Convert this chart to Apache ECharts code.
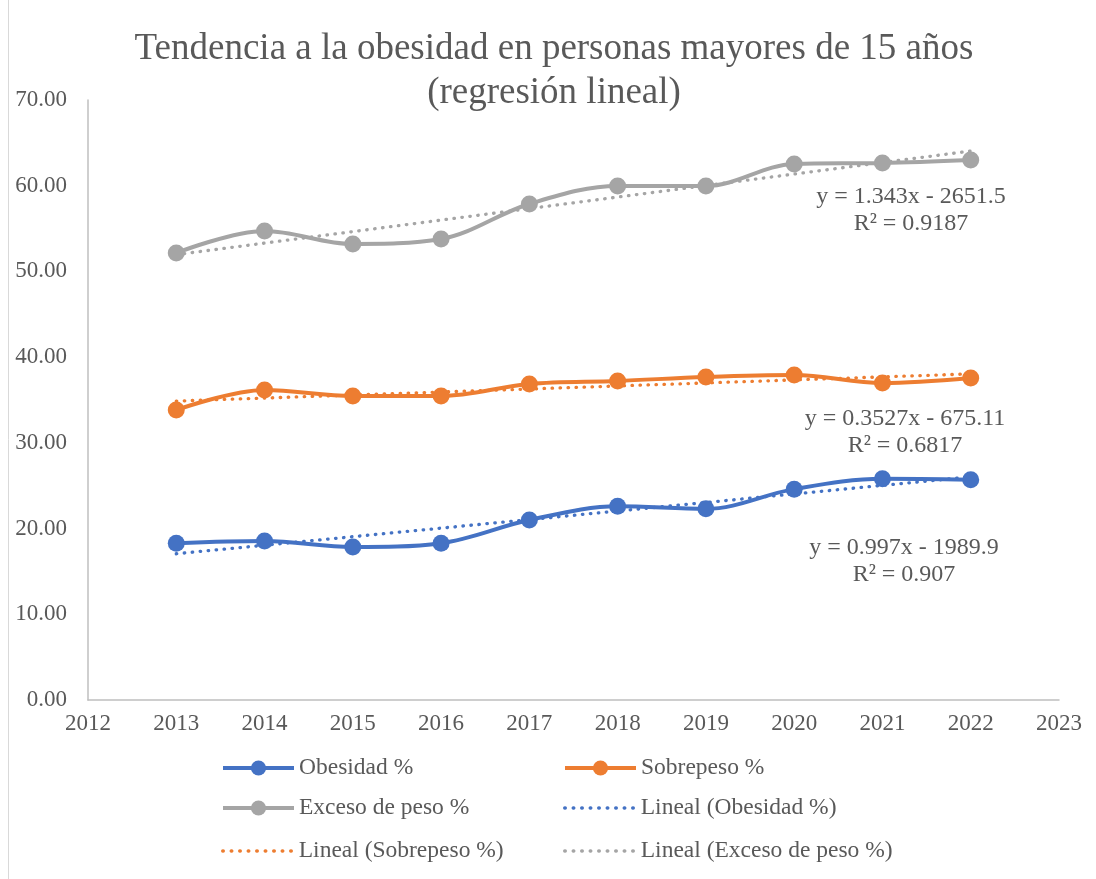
<!DOCTYPE html>
<html>
<head>
<meta charset="utf-8">
<script src="https://cdn.jsdelivr.net/npm/echarts@6/dist/echarts.min.js"></script>
<style>
  html, body { margin: 0; padding: 0; background: #ffffff; }
  #chart { width: 1096px; height: 879px; }
</style>
</head>
<body>
<div id="chart"></div>
<script>
// Años de la serie
const years = [2013, 2014, 2015, 2016, 2017, 2018, 2019, 2020, 2021, 2022];

// Porcentajes por año
const obesidad = [18.3, 18.55, 17.85, 18.3, 21.0, 22.6, 22.3, 24.6, 25.8, 25.7];
const sobrepeso = [33.83, 36.17, 35.47, 35.47, 36.87, 37.22, 37.69, 37.92, 36.99, 37.57];
const exceso = [52.15, 54.72, 53.2, 53.79, 57.87, 59.97, 59.97, 62.54, 62.65, 63.0];

// Coeficientes de las rectas de regresión [pendiente, ordenada]
const trendObesidad = [0.997, -1989.9];
const trendSobrepeso = [0.3527, -675.11];
const trendExceso = [1.343, -2651.5];

// Textos de las ecuaciones
const eqObesidad = ['y = 0.997x - 1989.9', 'R² = 0.907'];
const eqSobrepeso = ['y = 0.3527x - 675.11', 'R² = 0.6817'];
const eqExceso = ['y = 1.343x - 2651.5', 'R² = 0.9187'];

// Título
const titleLines = ['Tendencia a la obesidad en personas mayores de 15 años', '(regresión lineal)'];

// Ejes
const xMin = 2012, xMax = 2023;
const yMin = 0, yMax = 70, yStep = 10;

const FONT = '"Liberation Serif", "Times New Roman", serif';
const TXT = '#595959';
const BLUE = '#4472C4', ORANGE = '#ED7D31', GRAY = '#A5A5A5';

const pairs = vals => years.map((y, i) => [y, vals[i]]);
const trendLine = c => {
  const a = years[0], b = years[years.length - 1];
  return [[a, c[0] * a + c[1]], [b, c[0] * b + c[1]]];
};

function dataSeries(name, vals, color) {
  return {
    name, type: 'line', data: pairs(vals), smooth: 0.35,
    symbol: 'circle', symbolSize: 17,
    lineStyle: { color, width: 4 },
    itemStyle: { color },
    z: 3
  };
}
function trendSeries(name, coef, color) {
  return {
    name, type: 'line', data: trendLine(coef),
    symbol: 'none',
    lineStyle: { color, width: 3.3, type: [0.5, 7.5], cap: 'round' },
    itemStyle: { color },
    z: 2
  };
}

function legendAt(name, left, top, isTrend) {
  const item = isTrend ? { name, itemStyle: { opacity: 0 } } : { name };
  return {
    data: [item], left, top, orient: 'horizontal',
    itemWidth: 71, itemHeight: 19, itemGap: 6,
    lineStyle: isTrend ? { width: 3.5, type: [0.5, 8], cap: 'round' } : { width: 4 },
    textStyle: { fontFamily: FONT, fontSize: 23.5, color: TXT, padding: [0, 0, 0, 0] },
    padding: 0, selectedMode: false
  };
}

function textAt(t, cx, cy, size) {
  return {
    type: 'text', x: cx, y: cy,
    style: { text: t, fontFamily: FONT, fontSize: size, fill: TXT,
             align: 'center', verticalAlign: 'middle' }
  };
}
const eqText = (lines, cx, cy) => lines.map((t, i) => textAt(t, cx, cy + i * 27, 24));

const chart = echarts.init(document.getElementById('chart'), null, { renderer: 'canvas' });
chart.setOption({
  animation: false,
  backgroundColor: '#ffffff',
  grid: { left: 88, right: 37, top: 100, bottom: 179, containLabel: false },
  xAxis: {
    type: 'value', min: xMin, max: xMax, interval: 1,
    axisLine: { show: true, lineStyle: { color: '#BFBFBF', width: 1.5 } },
    axisTick: { show: false },
    splitLine: { show: false },
    axisLabel: { formatter: v => String(v), fontFamily: FONT, fontSize: 23, color: TXT, margin: 12 }
  },
  yAxis: {
    type: 'value', min: yMin, max: yMax, interval: yStep,
    axisLine: { show: true, lineStyle: { color: '#BFBFBF', width: 1.5 } },
    axisTick: { show: false },
    splitLine: { show: false },
    axisLabel: { formatter: v => v.toFixed(2), fontFamily: FONT, fontSize: 23, color: TXT, margin: 21 }
  },
  legend: [
    legendAt('Obesidad %', 221, 756, false),
    legendAt('Sobrepeso %', 563, 756, false),
    legendAt('Exceso de peso %', 221, 796, false),
    legendAt('Lineal (Obesidad %)', 563, 796, true),
    legendAt('Lineal (Sobrepeso %)', 221, 839, true),
    legendAt('Lineal (Exceso de peso %)', 563, 839, true)
  ],
  graphic: [
    { type: 'line', shape: { x1: 8.5, y1: 0, x2: 8.5, y2: 879 }, style: { stroke: '#D9D9D9', lineWidth: 1 } },
    textAt(titleLines[0], 554, 49, 37),
    textAt(titleLines[1], 554, 93, 37),
    ...eqText(eqExceso, 911, 197),
    ...eqText(eqSobrepeso, 905, 419),
    ...eqText(eqObesidad, 904, 548)
  ],
  series: [
    dataSeries('Obesidad %', obesidad, BLUE),
    dataSeries('Sobrepeso %', sobrepeso, ORANGE),
    dataSeries('Exceso de peso %', exceso, GRAY),
    trendSeries('Lineal (Obesidad %)', trendObesidad, BLUE),
    trendSeries('Lineal (Sobrepeso %)', trendSobrepeso, ORANGE),
    trendSeries('Lineal (Exceso de peso %)', trendExceso, GRAY)
  ]
});
</script>
</body>
</html>
